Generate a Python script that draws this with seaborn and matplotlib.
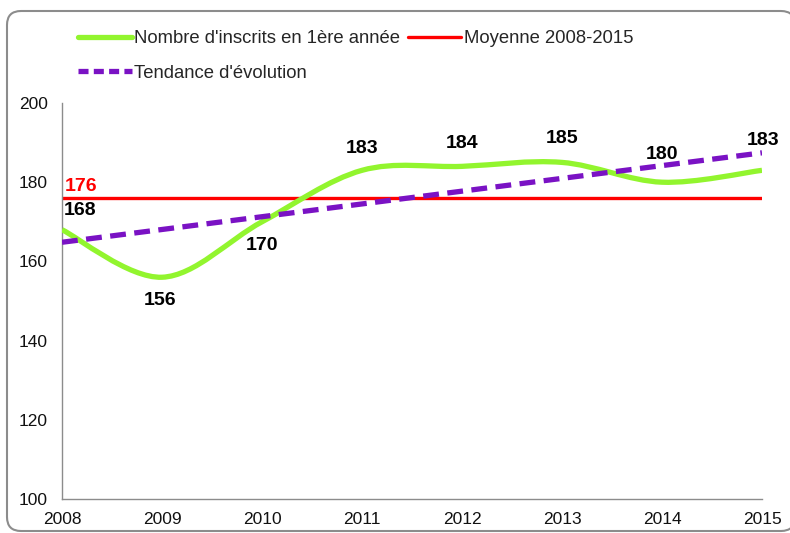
import numpy as np
import pandas as pd
import seaborn as sns
import matplotlib.pyplot as plt
from matplotlib.path import Path
from matplotlib.patches import PathPatch, FancyBboxPatch
from matplotlib.lines import Line2D

years = [2008, 2009, 2010, 2011, 2012, 2013, 2014, 2015]
inscrits = [168, 156, 170, 183, 184, 185, 180, 183]
# label offsets in pixels (dx, dy) relative to each point
label_dx = [18, -2, 0, 0, 0, 0, 0, 1]
label_dy = [19, -23, -24, 22, 23, 24, 28, 30]

GREEN = '#92F52E'
RED = '#FF0000'
PURPLE = '#7A12C4'
GRAY = '#8C8C8C'

sns.set_theme(style='white')
plt.rcParams['font.family'] = ['Liberation Sans', 'DejaVu Sans']

fig = plt.figure(figsize=(7.9, 5.33), dpi=100)
ax = fig.add_axes([62 / 790, 1 - 499 / 533, 700 / 790, 396 / 533])

df = pd.DataFrame({'annee': years, 'inscrits': inscrits})
moyenne = df['inscrits'].mean()

# smoothed curve (Excel-like bezier through the points)
xs = np.array(years, dtype=float)
ys = np.array(inscrits, dtype=float)
verts = [(xs[0], ys[0])]
codes = [Path.MOVETO]
n = len(xs)
for i in range(n - 1):
    p0 = np.array([xs[max(i - 1, 0)], ys[max(i - 1, 0)]])
    p1 = np.array([xs[i], ys[i]])
    p2 = np.array([xs[i + 1], ys[i + 1]])
    p3 = np.array([xs[min(i + 2, n - 1)], ys[min(i + 2, n - 1)]])
    c1 = p1 + (p2 - p0) / 6
    c2 = p2 - (p3 - p1) / 6
    verts += [tuple(c1), tuple(c2), tuple(p2)]
    codes += [Path.CURVE4] * 3
ax.add_patch(PathPatch(Path(verts, codes), facecolor='none', edgecolor=GREEN,
                       lw=3.8, capstyle='butt', zorder=3))

ax.axhline(moyenne, color=RED, lw=2.4, zorder=2)

sns.regplot(data=df, x='annee', y='inscrits', scatter=False, ci=None, ax=ax,
            line_kws=dict(color=PURPLE, lw=3.8, ls=(0, (3, 1.6)), zorder=4))

for x, y, dx, dy in zip(years, inscrits, label_dx, label_dy):
    ax.annotate(str(y), (x, y), xytext=(dx * 0.72, dy * 0.72), textcoords='offset points',
                ha='center', va='center', fontsize=14, fontweight='bold', color='black')
ax.annotate(f'{moyenne:.0f}', (2008, moyenne), xytext=(19 * 0.72, 11 * 0.72),
            textcoords='offset points', ha='center', va='center',
            fontsize=14, fontweight='bold', color=RED)

ax.set_xlim(2008, 2015)
ax.set_ylim(100, 200)
ax.set_xticks(years)
ax.set_yticks(range(100, 201, 20))
ax.set_xlabel('')
ax.set_ylabel('')
for s in ['top', 'right']:
    ax.spines[s].set_visible(False)
for s in ['left', 'bottom']:
    ax.spines[s].set_color(GRAY)
    ax.spines[s].set_linewidth(1)
ax.tick_params(axis='both', direction='out', length=4, width=1, color=GRAY,
               labelsize=12.5, labelcolor='#111111')
ax.tick_params(axis='x', pad=5)
ax.tick_params(axis='y', pad=6)

handles = [
    Line2D([], [], color=GREEN, lw=3.8),
    Line2D([], [], color=PURPLE, lw=3.8, ls=(0, (1.9, 1.0))),
    Line2D([], [], color=RED, lw=2.4),
]
labels = ["Nombre d'inscrits en 1ère année", "Tendance d'évolution", 'Moyenne 2008-2015']
fig.legend(handles, labels, ncol=2, loc='upper left', bbox_to_anchor=(78 / 790, 1 - 30 / 533),
           frameon=False, fontsize=13.3, handlelength=2.9, handletextpad=0.15,
           columnspacing=0.4, labelspacing=0.95, borderaxespad=0, borderpad=0)

# rounded frame around the chart, in inches (filled white, behind the axes)
fig.patches.append(FancyBboxPatch((0.07, 0.02), 7.88, 5.20,
                                  boxstyle='round,pad=0,rounding_size=0.14',
                                  transform=fig.dpi_scale_trans, facecolor='white',
                                  edgecolor=GRAY, lw=1.5, zorder=-1))

fig.savefig('out.png', dpi=100)
